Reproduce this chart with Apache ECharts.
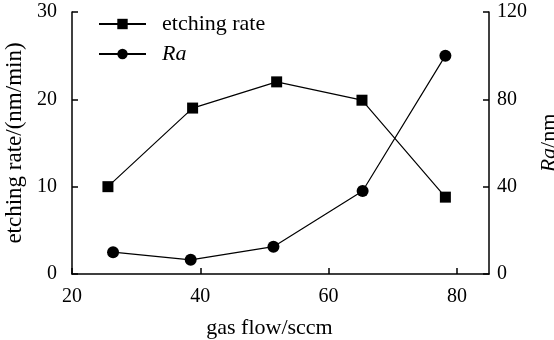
<!DOCTYPE html>
<html>
<head>
<meta charset="utf-8">
<script src="https://cdn.jsdelivr.net/npm/echarts@6/dist/echarts.min.js"></script>
<style>html,body{margin:0;padding:0;background:#fff;}#c{width:554px;height:340px;}</style>
</head>
<body>
<div id="c"></div>
<script>
// gas flow (sccm) for each measured point
const etchFlow = [25.6, 38.8, 51.9, 65.2, 78.2];
const etchRate = [10.0, 19.0, 22.0, 19.9, 8.8];
const raFlow = [26.4, 38.5, 51.4, 65.3, 78.2];
const raValues = [10, 6.5, 12.5, 38, 100];

const FONT = '"Liberation Serif", "Times New Roman", serif';
const chart = echarts.init(document.getElementById('c'), null, {renderer: 'canvas'});
const lineStyle = {color: '#000', width: 1.2};
chart.setOption({
  animation: false,
  backgroundColor: '#fff',
  textStyle: {fontFamily: FONT, color: '#000'},
  grid: {left: 72, right: 65, top: 12, bottom: 66, containLabel: false, outerBoundsMode: 'none'},
  legend: {
    left: 93, top: 8, orient: 'vertical',
    itemWidth: 47, itemHeight: 13, itemGap: 8,
    textStyle: {fontFamily: FONT, fontSize: 22, color: '#000'},
    formatter: function (n) { return '\u2002' + n; },
    data: [
      {name: 'etching rate', textStyle: {fontFamily: FONT, fontSize: 22, color: '#000'}},
      {name: 'Ra', textStyle: {fontFamily: FONT, fontSize: 22, fontStyle: 'italic', color: '#000'}}
    ]
  },
  xAxis: {
    type: 'value', min: 20, max: 85, interval: 20,
    name: 'gas flow/sccm', nameLocation: 'middle', nameGap: 43,
    nameTextStyle: {fontFamily: FONT, fontSize: 22, color: '#000', padding: [0, 22, 0, 0]},
    axisLine: {lineStyle: {color: '#000', width: 1.5}},
    axisTick: {inside: true, length: 6, lineStyle: {color: '#000', width: 1.5}},
    axisLabel: {fontFamily: FONT, fontSize: 20, color: '#000', margin: 13, showMaxLabel: false,
      formatter: function (v) { return v % 20 === 0 ? String(v) : ''; }},
    splitLine: {show: false}
  },
  yAxis: [
    {
      type: 'value', min: 0, max: 30, interval: 10, position: 'left',
      name: 'etching rate/(nm/min)', nameLocation: 'middle', nameGap: 41, nameRotate: 90,
      nameTextStyle: {fontFamily: FONT, fontSize: 23, color: '#000'},
      axisLine: {show: true, lineStyle: {color: '#000', width: 1.5}},
      axisTick: {show: true, inside: true, length: 6, lineStyle: {color: '#000', width: 1.5}},
      axisLabel: {fontFamily: FONT, fontSize: 20, color: '#000', margin: 15},
      splitLine: {show: false}
    },
    {
      type: 'value', min: 0, max: 120, interval: 40, position: 'right',
      name: '{i|Ra}/nm', nameLocation: 'middle', nameGap: 44, nameRotate: 90,
      nameTextStyle: {fontFamily: FONT, fontSize: 22, color: '#000',
        rich: {i: {fontFamily: FONT, fontSize: 22, fontStyle: 'italic', color: '#000'}}},
      axisLine: {show: true, lineStyle: {color: '#000', width: 1.5}},
      axisTick: {show: true, inside: true, length: 6, lineStyle: {color: '#000', width: 1.5}},
      axisLabel: {fontFamily: FONT, fontSize: 20, color: '#000', margin: 8},
      splitLine: {show: false}
    }
  ],
  series: [
    {
      name: 'etching rate', type: 'line', yAxisIndex: 0,
      data: etchFlow.map((x, i) => [x, etchRate[i]]),
      symbol: 'rect', symbolSize: 11,
      lineStyle: lineStyle, itemStyle: {color: '#000'}
    },
    {
      name: 'Ra', type: 'line', yAxisIndex: 1,
      data: raFlow.map((x, i) => [x, raValues[i]]),
      symbol: 'circle', symbolSize: 12,
      lineStyle: lineStyle, itemStyle: {color: '#000'}
    }
  ]
});
</script>
</body>
</html>
